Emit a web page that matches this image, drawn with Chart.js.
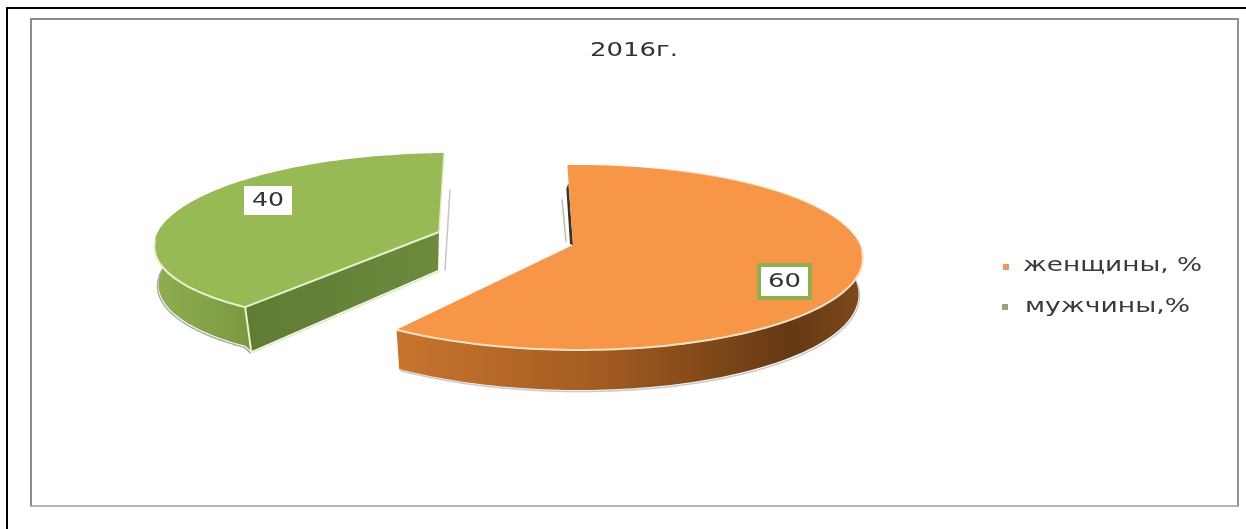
<!DOCTYPE html>
<html lang="ru">
<head>
<meta charset="utf-8">
<title>2016г.</title>
<script src="https://cdn.jsdelivr.net/npm/chart.js@4"></script>
<style>
  html, body { margin: 0; padding: 0; background: #fff; overflow: hidden; }
  #page { position: relative; width: 1246px; height: 529px; }
  #frame { position: absolute; left: 6px; top: 7px; width: 1240px; height: 522px;
           border-left: 2px solid #000; border-top: 2px solid #000; box-sizing: border-box; }
  #box { position: absolute; left: 30px; top: 18px; width: 1209px; height: 489px; box-sizing: border-box;
         border: 2px solid #8c8c8c; border-bottom-color: #b4b4b4; border-right-color: #929292; }
  canvas { position: absolute; left: 0; top: 0; }
</style>
</head>
<body>
<div id="page">
  <div id="frame"></div>
  <div id="box"></div>
  <canvas id="pieChart" width="1246" height="529"></canvas>
</div>
<script>
const chartTitle = '2016г.';
const categories = ['женщины, %', 'мужчины,%'];
const shares = [60, 40];
const sliceColors = ['#f79646', '#98ba54'];

// how each exploded slice sits on the page: apex, radii, tilt and wall height
const orangeView = { cx: 573, cy: 245, b: 287, a: 90.8, k: 0.135, skewBack: -0.04, skewFront: 0.05, depth: 36 };
const greenView = { cx: 439, cy: 232, b: 281, a: 85, k: 0.075, skewBack: -0.18, skewFront: -0.35, depth: 38 };

function project(v, t, lower) {
  const X = Math.cos(t), Y = Math.sin(t), w = 1 - v.k * Y;
  const y = v.a * Y / w;
  const skew = v.skewBack + (v.skewFront - v.skewBack) * (Y + 1) / 1.83;
  const x = v.b * X / w + skew * y;
  if (!lower) return [v.cx + x, v.cy + y];
  return [v.cx + x * 0.985, v.cy + y * 0.985 + v.depth / w];
}

function arcPoints(v, from, to, lower) {
  const pts = [];
  const n = 90;
  for (let i = 0; i <= n; i++) pts.push(project(v, from + (to - from) * i / n, lower));
  return pts;
}

function tracePath(ctx, pts, close) {
  ctx.beginPath();
  pts.forEach((p, i) => i ? ctx.lineTo(p[0], p[1]) : ctx.moveTo(p[0], p[1]));
  if (close) ctx.closePath();
}

function fillPoly(ctx, pts, style) {
  tracePath(ctx, pts, true);
  ctx.fillStyle = style;
  ctx.fill();
}

function strokeLine(ctx, pts, color, width) {
  tracePath(ctx, pts, false);
  ctx.strokeStyle = color;
  ctx.lineWidth = width;
  ctx.lineCap = 'round';
  ctx.lineJoin = 'round';
  ctx.stroke();
}

// the glyphs in this chart are wide, so text is stretched to a given width
function wideText(ctx, text, x, y, width, size, color) {
  ctx.save();
  ctx.font = size + 'px "DejaVu Sans"';
  ctx.textBaseline = 'middle';
  ctx.textAlign = 'left';
  ctx.fillStyle = color;
  const sx = width / ctx.measureText(text).width;
  ctx.translate(x, y);
  ctx.scale(sx, 1);
  ctx.fillText(text, 0, 0);
  ctx.restore();
}

function drawOrange(ctx, el) {
  const v = orangeView, start = el.startAngle, end = el.endAngle;
  const apex = [v.cx, v.cy];
  const rimStart = project(v, start);

  // thin dark sliver and shadow line behind the back edge
  strokeLine(ctx, [[562, 200], [566, 241]], '#b9b9b9', 1.5);
  fillPoly(ctx, [[rimStart[0] + 1, rimStart[1] + 18], apex, [apex[0] - 3, apex[1] - 1], [rimStart[0] - 1, rimStart[1] + 24]], '#3b3128');

  const upper = arcPoints(v, -0.1, end);
  const lower = arcPoints(v, -0.1, end, true);
  strokeLine(ctx, lower.map(p => [p[0] + 1, p[1] + 1.5]), '#c9c9c9', 1.5);
  const wall = ctx.createLinearGradient(395, 0, 862, 0);
  wall.addColorStop(0, '#c8752e');
  wall.addColorStop(0.45, '#a25b20');
  wall.addColorStop(0.85, '#653913');
  wall.addColorStop(1, '#7d4a1b');
  fillPoly(ctx, upper.concat(lower.slice().reverse()), wall);

  const top = [apex].concat(arcPoints(v, start, end));
  fillPoly(ctx, top, sliceColors[0]);
  strokeLine(ctx, arcPoints(v, 0.05, end), '#ffe3c6', 2);
  strokeLine(ctx, arcPoints(v, -1.2, 0.05), '#fbc595', 1);
}

function drawGreen(ctx, el) {
  const v = greenView, start = el.startAngle, end = el.endAngle;
  const apex = [v.cx, v.cy];
  const apexLow = [v.cx - 1, v.cy + v.depth];
  const front = project(v, start), frontLow = [front[0] + 6, front[1] + 44];
  const rimEnd = project(v, end);

  strokeLine(ctx, [[450, 190], [445, 270]], '#c4c6c8', 1.5);

  // wall along the cut edge facing the viewer
  const inner = ctx.createLinearGradient(250, 0, 438, 0);
  inner.addColorStop(0, '#5f7c33');
  inner.addColorStop(1, '#6c8b3d');
  strokeLine(ctx, [frontLow, apexLow].map(p => [p[0] + 1, p[1] + 1.5]), '#dfe8c8', 1.5);
  fillPoly(ctx, [front, apex, apexLow, frontLow], inner);

  const upper = arcPoints(v, start, Math.PI * 1.05);
  const lower = arcPoints(v, start, Math.PI * 1.05, true);
  lower[0] = frontLow;
  strokeLine(ctx, lower.map(p => [p[0] - 1, p[1] + 1.5]), '#a9a9a9', 1.5);
  const wall = ctx.createLinearGradient(155, 0, 250, 0);
  wall.addColorStop(0, '#8fae4f');
  wall.addColorStop(1, '#7b983f');
  fillPoly(ctx, upper.concat(lower.slice().reverse()), wall);

  const top = [apex].concat(arcPoints(v, start, end));
  fillPoly(ctx, top, sliceColors[1]);

  strokeLine(ctx, arcPoints(v, start, Math.PI * 0.97), '#e9f2cf', 2);
  strokeLine(ctx, [apex, front], '#e9f2cf', 2);
  strokeLine(ctx, [front, frontLow], '#e9f2cf', 2);
  strokeLine(ctx, [rimEnd, apex], '#e3edc4', 1.5);
}

const slicePainters = [drawOrange, drawGreen];

const slices3d = {
  id: 'slices3d',
  // the library lays the slices out, the angles of its arcs are drawn here in perspective
  beforeDatasetDraw(chart) {
    const ctx = chart.ctx;
    const arcs = chart.getDatasetMeta(0).data;
    ctx.save();
    [1, 0].forEach(i => slicePainters[i](ctx, arcs[i]));
    ctx.restore();
    return false;
  },
  afterDraw(chart) {
    const ctx = chart.ctx;
    const values = chart.data.datasets[0].data;
    const names = chart.data.labels;

    wideText(ctx, chartTitle, 590, 51, 88, 20, '#333');

    // value boxes
    ctx.fillStyle = '#fff';
    ctx.fillRect(244, 186, 48, 29);
    wideText(ctx, String(values[1]), 252, 201, 32, 20, '#333');
    ctx.fillStyle = '#8fb04e';
    ctx.fillRect(757, 263, 55, 37);
    ctx.fillStyle = '#fff';
    ctx.fillRect(761, 267, 47, 29);
    wideText(ctx, String(values[0]), 768, 282, 33, 20, '#333');

    // legend
    ctx.fillStyle = '#e99a5c';
    ctx.fillRect(1003, 264, 6, 6);
    wideText(ctx, names[0], 1023, 266, 179, 20, '#3a3a3a');
    ctx.fillStyle = '#93a86a';
    ctx.fillRect(1002, 304, 6, 6);
    wideText(ctx, names[1], 1025, 307, 165, 20, '#3a3a3a');
  }
};

new Chart(document.getElementById('pieChart').getContext('2d'), {
  type: 'pie',
  data: {
    labels: categories,
    datasets: [{ data: shares, backgroundColor: sliceColors, borderWidth: 0 }]
  },
  options: {
    responsive: false,
    animation: false,
    devicePixelRatio: 1,
    rotation: -2,
    events: [],
    plugins: { legend: { display: false }, title: { display: false }, tooltip: { enabled: false } }
  },
  plugins: [slices3d]
});
</script>
</body>
</html>
